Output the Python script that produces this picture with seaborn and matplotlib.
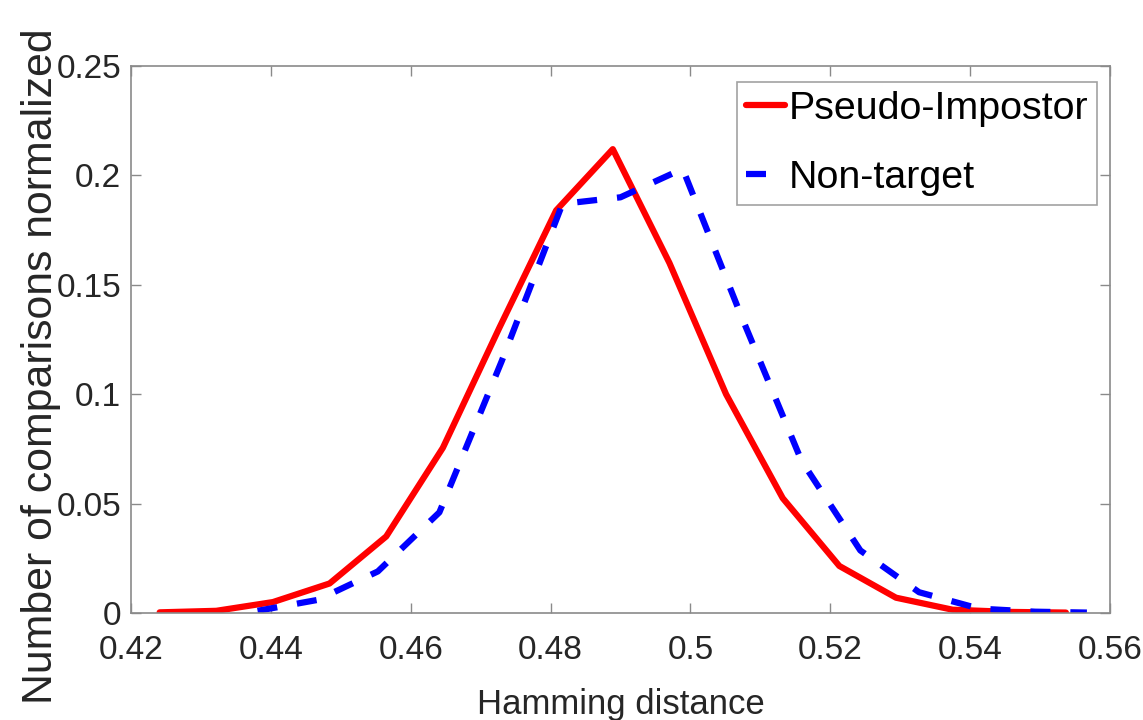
import matplotlib
matplotlib.use("Agg")
import matplotlib.pyplot as plt
import seaborn as sns
import pandas as pd

# ---- data ----
pseudo_x = [0.4241, 0.4322, 0.4403, 0.4484, 0.4565, 0.4646, 0.4727, 0.4808, 0.4889,
            0.4970, 0.5051, 0.5132, 0.5213, 0.5294, 0.5375, 0.5456, 0.5537]
pseudo_y = [0.0003, 0.0010, 0.0050, 0.0135, 0.0350, 0.0755, 0.1305, 0.1840, 0.2120,
            0.1600, 0.1000, 0.0525, 0.0215, 0.0070, 0.0015, 0.0005, 0.0002]

nontarget_x = [0.4381, 0.4467, 0.4553, 0.4641, 0.4730, 0.4817, 0.4900, 0.4989,
               0.5073, 0.5159, 0.5243, 0.5327, 0.5413, 0.5493, 0.5567]
nontarget_y = [0.0010, 0.0060, 0.0190, 0.0460, 0.1150, 0.1870, 0.1900, 0.2030,
               0.1355, 0.0695, 0.0286, 0.0095, 0.0020, 0.0006, 0.0002]

series_names = ["Pseudo-Impostor", "Non-target"]
x_ticks = [0.42, 0.44, 0.46, 0.48, 0.50, 0.52, 0.54, 0.56]
x_tick_labels = ["0.42", "0.44", "0.46", "0.48", "0.5", "0.52", "0.54", "0.56"]
y_ticks = [0, 0.05, 0.10, 0.15, 0.20, 0.25]
y_tick_labels = ["0", "0.05", "0.1", "0.15", "0.2", "0.25"]
x_label = "Hamming distance"
y_label = "Number of comparisons normalized"

df_p = pd.DataFrame({"x": pseudo_x, "y": pseudo_y})
df_n = pd.DataFrame({"x": nontarget_x, "y": nontarget_y})

sns.set_theme(style="white")
fam = ["Liberation Sans", "DejaVu Sans"]
plt.rcParams["font.family"] = fam

fig = plt.figure(figsize=(11.43, 7.2), dpi=100)
ax = fig.add_axes([0.1146, 0.1486, 0.8565, 0.7597])

lw = 4.5
sns.lineplot(data=df_p, x="x", y="y", ax=ax, color="#ff0000", linewidth=lw,
             label=series_names[0], sort=True, solid_joinstyle="round")
sns.lineplot(data=df_n, x="x", y="y", ax=ax, color="#0000ff", linewidth=lw,
             label=series_names[1], sort=True, linestyle=(0, (3.2, 3.2)),
             dash_capstyle="butt")

ax.set_xlim(0.42, 0.56)
ax.set_ylim(0, 0.25)
ax.set_xticks(x_ticks)
ax.set_xticklabels(x_tick_labels)
ax.set_yticks(y_ticks)
ax.set_yticklabels(y_tick_labels)

spine_col = "#8a8a8a"
for s in ax.spines.values():
    s.set_visible(True)
    s.set_color(spine_col)
    s.set_linewidth(1.2)

ax.tick_params(axis="both", which="major", direction="in", length=7, width=1,
               color=spine_col, labelcolor="#262626", labelsize=24,
               top=True, right=True, bottom=True, left=True)
ax.tick_params(axis="x", pad=16)
ax.tick_params(axis="y", pad=7)

ax.set_xlabel(x_label, fontsize=25, color="#262626")
ax.xaxis.set_label_coords(0.5005, -0.138)
ax.set_ylabel(y_label, fontsize=30.8, color="#262626")
ax.yaxis.set_label_coords(-0.072, 0.452)

leg = ax.legend(loc="upper right", bbox_to_anchor=(0.9867, 0.9707),
                borderaxespad=0, fancybox=False, frameon=True,
                edgecolor=spine_col, prop={"size": 28.4},
                handlelength=1.0, handletextpad=0.08, labelspacing=0.85,
                borderpad=0.22)
leg.get_frame().set_linewidth(1.2)
for txt in leg.get_texts():
    txt.set_color("black")

fig.savefig("out.png", dpi=100, facecolor="white")
